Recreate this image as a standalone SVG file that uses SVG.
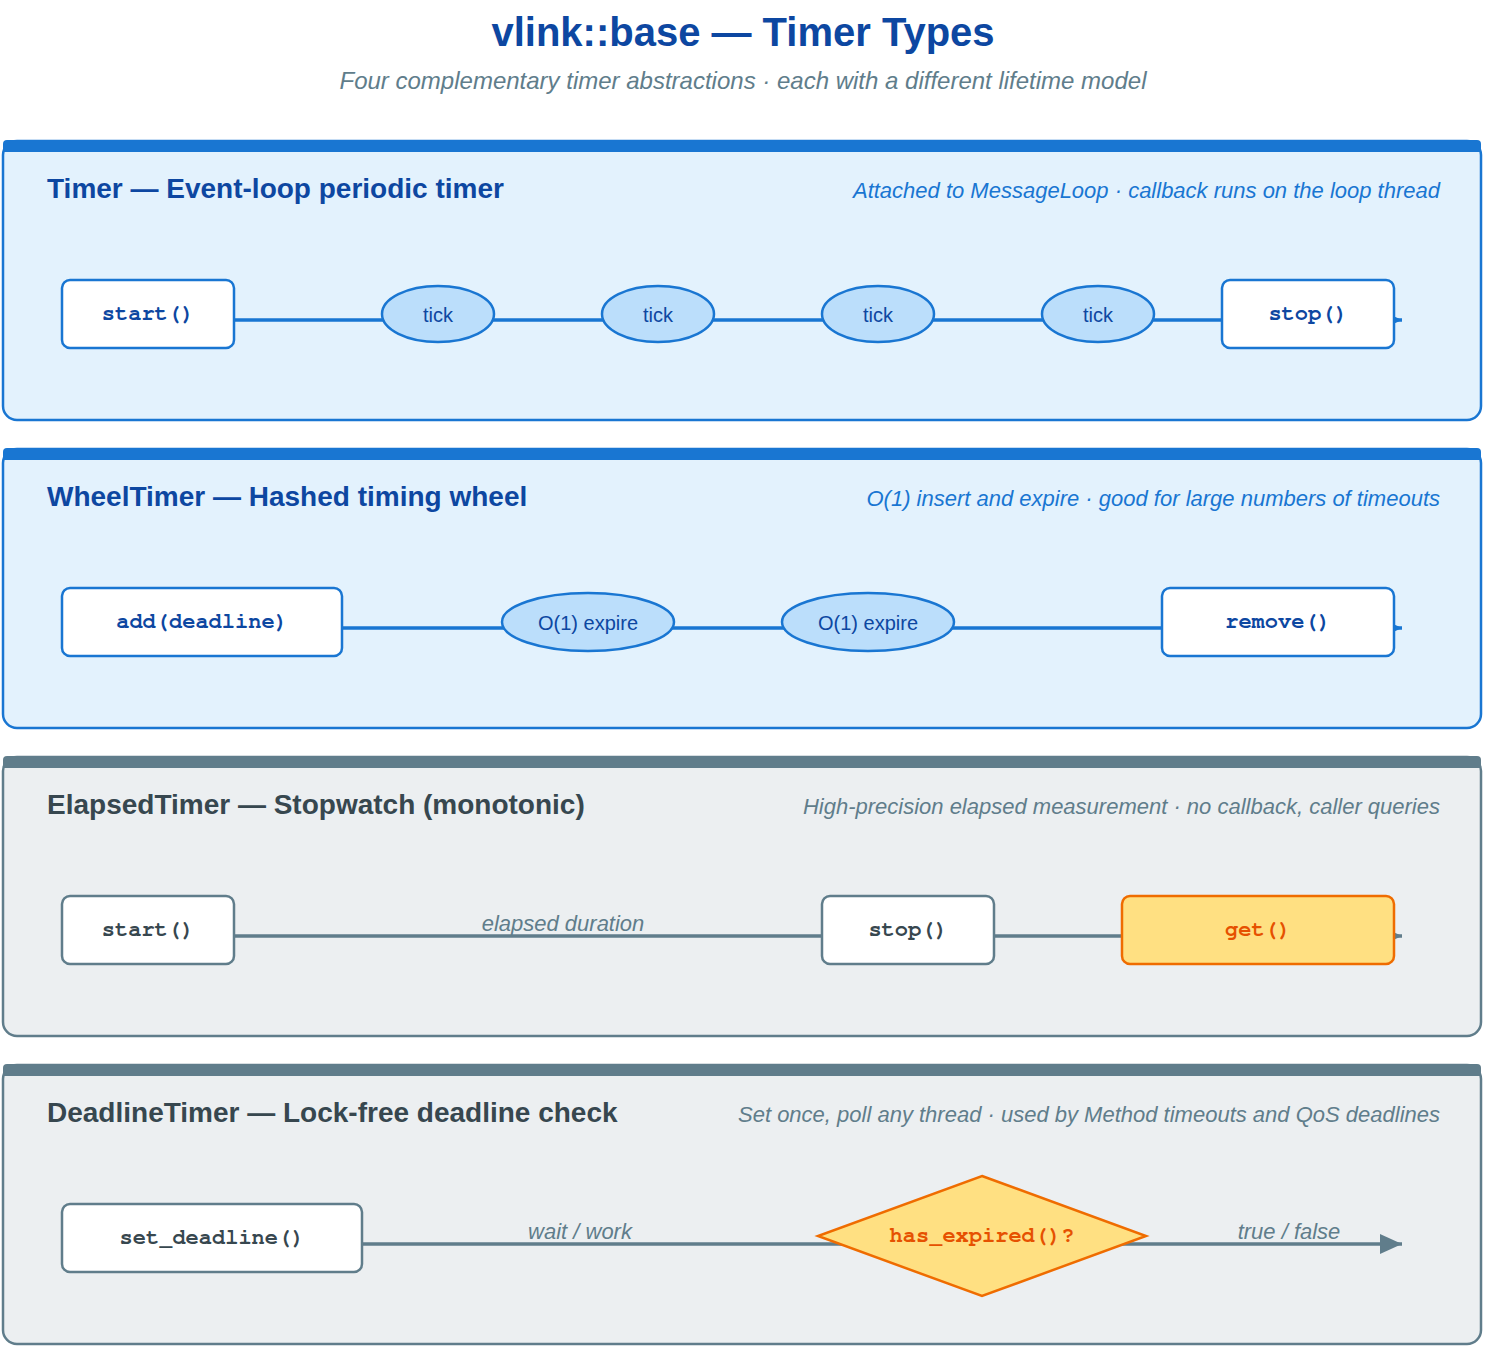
<svg xmlns="http://www.w3.org/2000/svg" width="1486" height="1348" viewBox="0 0 1486 1348">
<defs>
<marker id="arrB" markerUnits="userSpaceOnUse" markerWidth="22" markerHeight="20" refX="22" refY="10" orient="auto"><path d="M0,0 L22,10 L0,20 z" fill="#1976d2"/></marker>
<marker id="arrG" markerUnits="userSpaceOnUse" markerWidth="22" markerHeight="20" refX="22" refY="10" orient="auto"><path d="M0,0 L22,10 L0,20 z" fill="#607d8b"/></marker>
</defs>
<style>
.title{font-family:"Liberation Sans",Arial,sans-serif;font-weight:bold;font-size:40px;fill:#0d47a1;text-anchor:middle}
.sub{font-family:"Liberation Sans",Arial,sans-serif;font-style:italic;font-size:24px;fill:#607d8b;text-anchor:middle}
.pb{fill:#e3f2fd;stroke:#1976d2;stroke-width:2.5}
.pg{fill:#eceff1;stroke:#607d8b;stroke-width:2.5}
.barB{fill:#1976d2}
.barG{fill:#607d8b}
.ptB{font-family:"Liberation Sans",Arial,sans-serif;font-weight:bold;font-size:28px;fill:#0d47a1}
.ptG{font-family:"Liberation Sans",Arial,sans-serif;font-weight:bold;font-size:28px;fill:#37474f}
.psB{font-family:"Liberation Sans",Arial,sans-serif;font-style:italic;font-size:22px;fill:#1976d2;text-anchor:end}
.psG{font-family:"Liberation Sans",Arial,sans-serif;font-style:italic;font-size:22px;fill:#607d8b;text-anchor:end}
.bxB{fill:#ffffff;stroke:#1976d2;stroke-width:2.5}
.bxG{fill:#ffffff;stroke:#607d8b;stroke-width:2.5}
.bxO{fill:#ffe082;stroke:#ef6c00;stroke-width:2.5}
.el{fill:#bbdefb;stroke:#1976d2;stroke-width:2.5}
.mB{font-family:FreeMono,"Courier New",monospace;font-weight:bold;font-size:22px;fill:#0d47a1;text-anchor:middle}
.mG{font-family:FreeMono,"Courier New",monospace;font-weight:bold;font-size:22px;fill:#37474f;text-anchor:middle}
.mO{font-family:FreeMono,"Courier New",monospace;font-weight:bold;font-size:22px;fill:#e65100;text-anchor:middle}
.et{font-family:"Liberation Sans",Arial,sans-serif;font-size:20px;fill:#0d47a1;text-anchor:middle}
.lnB{stroke:#1976d2;stroke-width:3.5;fill:none}
.lnG{stroke:#607d8b;stroke-width:3.5;fill:none}
.lbl{font-family:"Liberation Sans",Arial,sans-serif;font-style:italic;font-size:22px;fill:#607d8b;text-anchor:middle}
</style>
<rect width="1486" height="1348" fill="#ffffff"/>
<g id="header">
<text class="title" x="743" y="46">vlink::base — Timer Types</text>
<text class="sub" x="743" y="89">Four complementary timer abstractions · each with a different lifetime model</text>
</g>
<g id="panels">
<g id="panel-timer">
<rect class="pb" x="3" y="141" width="1478" height="279" rx="14"/>
<path class="barB" d="M3,152 V144 Q3,140 7,140 H1477 Q1481,140 1481,144 V152 z"/>
<text class="ptB" x="47" y="198">Timer — Event-loop periodic timer</text>
<text class="psB" x="1440" y="198">Attached to MessageLoop · callback runs on the loop thread</text>
</g>
<g id="panel-wheel">
<rect class="pb" x="3" y="449" width="1478" height="279" rx="14"/>
<path class="barB" d="M3,460 V452 Q3,448 7,448 H1477 Q1481,448 1481,452 V460 z"/>
<text class="ptB" x="47" y="506">WheelTimer — Hashed timing wheel</text>
<text class="psB" x="1440" y="506">O(1) insert and expire · good for large numbers of timeouts</text>
</g>
<g id="panel-elapsed">
<rect class="pg" x="3" y="757" width="1478" height="279" rx="14"/>
<path class="barG" d="M3,768 V760 Q3,756 7,756 H1477 Q1481,756 1481,760 V768 z"/>
<text class="ptG" x="47" y="814">ElapsedTimer — Stopwatch (monotonic)</text>
<text class="psG" x="1440" y="814">High-precision elapsed measurement · no callback, caller queries</text>
</g>
<g id="panel-deadline">
<rect class="pg" x="3" y="1065" width="1478" height="279" rx="14"/>
<path class="barG" d="M3,1076 V1068 Q3,1064 7,1064 H1477 Q1481,1064 1481,1068 V1076 z"/>
<text class="ptG" x="47" y="1122">DeadlineTimer — Lock-free deadline check</text>
<text class="psG" x="1440" y="1122">Set once, poll any thread · used by Method timeouts and QoS deadlines</text>
</g>
</g>
<g id="connectors">
<line class="lnB" x1="234" y1="320" x2="1402" y2="320" marker-end="url(#arrB)"/>
<line class="lnB" x1="342" y1="628" x2="1402" y2="628" marker-end="url(#arrB)"/>
<line class="lnG" x1="234" y1="936" x2="1402" y2="936" marker-end="url(#arrG)"/>
<text class="lbl" x="563" y="931">elapsed duration</text>
<line class="lnG" x1="362" y1="1244" x2="1402" y2="1244" marker-end="url(#arrG)"/>
<text class="lbl" x="580" y="1239">wait / work</text>
<text class="lbl" x="1289" y="1239">true / false</text>
</g>
<g id="node-timer-start"><rect class="bxB" x="62" y="280" width="172" height="68" rx="8"/><text class="mB" x="148" y="320">start()</text></g>
<g id="node-tick1"><ellipse class="el" cx="438" cy="314" rx="56" ry="28"/><text class="et" x="438" y="322">tick</text></g>
<g id="node-tick2"><ellipse class="el" cx="658" cy="314" rx="56" ry="28"/><text class="et" x="658" y="322">tick</text></g>
<g id="node-tick3"><ellipse class="el" cx="878" cy="314" rx="56" ry="28"/><text class="et" x="878" y="322">tick</text></g>
<g id="node-tick4"><ellipse class="el" cx="1098" cy="314" rx="56" ry="28"/><text class="et" x="1098" y="322">tick</text></g>
<g id="node-timer-stop"><rect class="bxB" x="1222" y="280" width="172" height="68" rx="8"/><text class="mB" x="1308" y="320">stop()</text></g>
<g id="node-wheel-add"><rect class="bxB" x="62" y="588" width="280" height="68" rx="8"/><text class="mB" x="202" y="628">add(deadline)</text></g>
<g id="node-expire1"><ellipse class="el" cx="588" cy="622" rx="86" ry="29"/><text class="et" x="588" y="630">O(1) expire</text></g>
<g id="node-expire2"><ellipse class="el" cx="868" cy="622" rx="86" ry="29"/><text class="et" x="868" y="630">O(1) expire</text></g>
<g id="node-wheel-remove"><rect class="bxB" x="1162" y="588" width="232" height="68" rx="8"/><text class="mB" x="1278" y="628">remove()</text></g>
<g id="node-el-start"><rect class="bxG" x="62" y="896" width="172" height="68" rx="8"/><text class="mG" x="148" y="936">start()</text></g>
<g id="node-el-stop"><rect class="bxG" x="822" y="896" width="172" height="68" rx="8"/><text class="mG" x="908" y="936">stop()</text></g>
<g id="node-el-get"><rect class="bxO" x="1122" y="896" width="272" height="68" rx="8"/><text class="mO" x="1258" y="936">get()</text></g>
<g id="node-set-deadline"><rect class="bxG" x="62" y="1204" width="300" height="68" rx="8"/><text class="mG" x="212" y="1244">set_deadline()</text></g>
<g id="node-has-expired"><polygon class="bxO" points="982,1176 1146,1236 982,1296 818,1236"/><text class="mO" x="982" y="1242">has_expired()?</text></g>
</svg>
